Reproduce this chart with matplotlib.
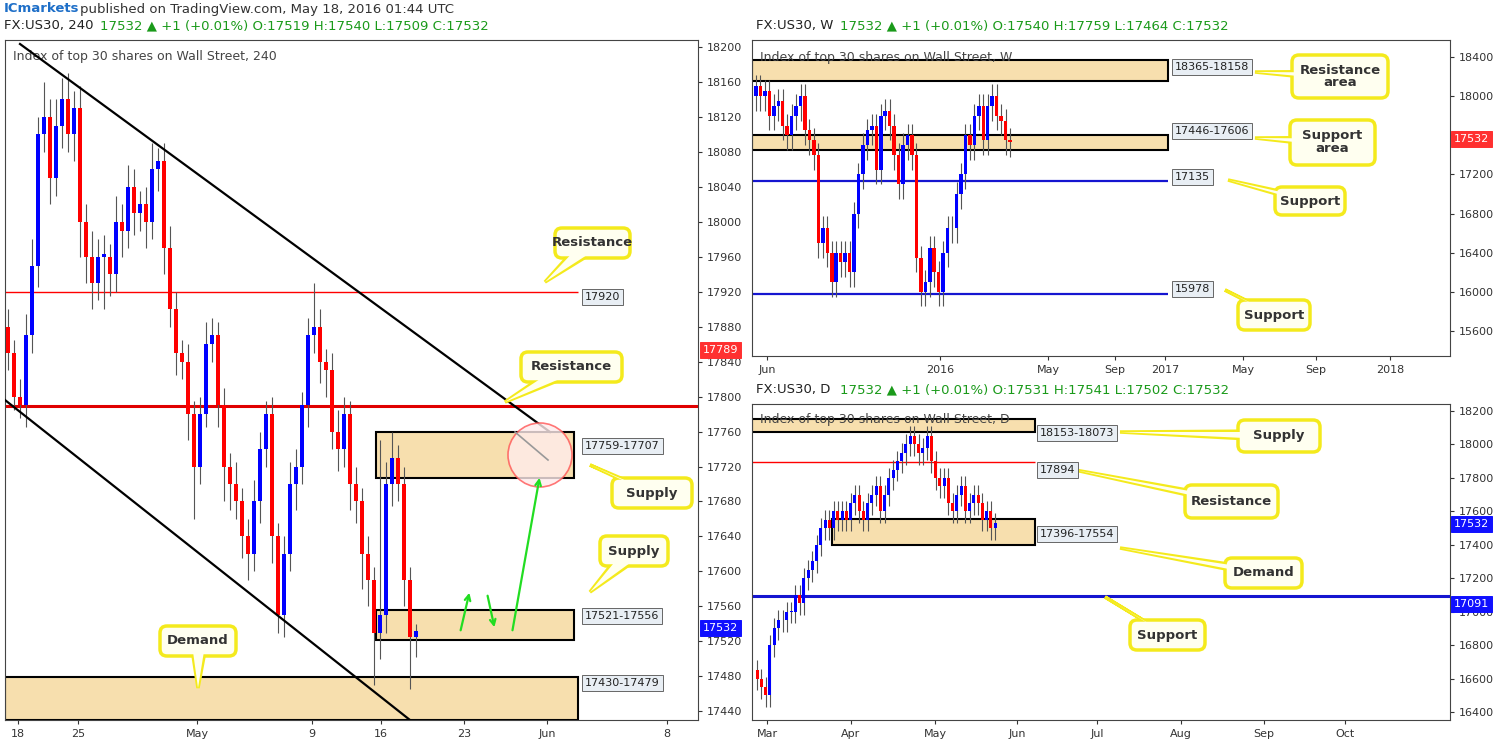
import numpy as np
import matplotlib
matplotlib.use('Agg')
import matplotlib.pyplot as plt
from matplotlib.patches import FancyBboxPatch, Polygon, Rectangle, Circle

W, H = 1498, 747

# ---- 4h panel data (closes, wick extensions) ----
h4_close = [17850, 17800, 17790, 17870, 17950, 18100, 18120, 18050, 18110, 18140,
            18100, 18130, 18000, 17960, 17930, 17960, 17960, 17940, 18000, 17990,
            18040, 18010, 18020, 18000, 18060, 18070, 17970, 17900, 17850, 17840,
            17780, 17720, 17780, 17860, 17870, 17790, 17720, 17700, 17680, 17640,
            17620, 17680, 17740, 17780, 17640, 17550, 17620, 17700, 17720, 17790,
            17870, 17880, 17840, 17830, 17760, 17740, 17780, 17700, 17680, 17620,
            17590, 17530, 17550, 17700, 17730, 17700, 17590, 17525, 17532]
h4_up = [20, 15, 20, 25, 30, 20, 40, 20, 30, 25, 30, 20, 25, 20, 30, 20, 25, 15, 30, 20,
         25, 20, 15, 20, 30, 15, 20, 25, 20, 15, 20, 15, 20, 25, 20, 15, 20, 15, 25, 15,
         20, 25, 20, 15, 20, 15, 20, 25, 20, 15, 20, 50, 20, 15, 20, 25, 20, 15, 20, 15,
         20, 15, 200, 25, 30, 15, 20, 15, 8]
h4_dn = [20, 15, 15, 25, 20, 25, 20, 30, 20, 25, 20, 30, 40, 30, 30, 20, 60, 25, 20, 30,
         20, 25, 20, 30, 20, 25, 30, 20, 25, 20, 30, 60, 20, 15, 20, 25, 40, 30, 20, 25,
         30, 20, 25, 20, 30, 20, 25, 20, 30, 20, 25, 20, 25, 30, 20, 25, 20, 30, 25, 40,
         30, 60, 30, 20, 25, 20, 30, 60, 23]
h4_ticks = ['18', '25', 'May', '9', '16', '23', 'Jun', '8']
h4_tick_px = [18, 78, 197, 312, 381, 464, 547, 667]

# ---- weekly panel data ----
w_close = [18100, 18000, 18050, 17800, 17900, 17950, 17700, 17600, 17800, 17900,
           18000, 17650, 17550, 17400, 16500, 16650, 16400, 16100, 16400, 16300,
           16400, 16200, 16800, 17200, 17500, 17650, 17700, 17250, 17800, 17850,
           17700, 17400, 17100, 17500, 17600, 17400, 16350, 16000, 16100, 16450,
           16200, 16000, 16400, 16650, 16650, 17000, 17200, 17600, 17500, 17800,
           17900, 17550, 17900, 18000, 17800, 17750, 17550, 17532]
w_ticks = ['Jun', '2016', 'May', 'Sep', '2017', 'May', 'Sep', '2018']
w_tick_px = [767, 940, 1048, 1115, 1165, 1243, 1316, 1390]

# ---- daily panel data ----
d_close = [16600, 16550, 16500, 16800, 16900, 16950, 16950, 17000, 17000, 17100,
           17050, 17200, 17250, 17300, 17400, 17500, 17550, 17500, 17600, 17550,
           17600, 17550, 17650, 17700, 17600, 17550, 17650, 17700, 17750, 17600,
           17700, 17800, 17850, 17900, 17950, 18000, 18050, 18000, 17950, 17980,
           18050, 17900, 17800, 17750, 17800, 17650, 17600, 17700, 17750, 17600,
           17650, 17700, 17650, 17550, 17600, 17500, 17532]
d_ticks = ['Mar', 'Apr', 'May', 'Jun', 'Jul', 'Aug', 'Sep', 'Oct']
d_tick_px = [767, 851, 935, 1017, 1097, 1181, 1264, 1345]

BLUE, RED = '#0000ff', '#ff0000'
ZONE = '#f7dfae'
CALL_FILL, CALL_EDGE = '#fffff0', '#f4ea1c'

fig = plt.figure(figsize=(W / 100, H / 100), dpi=100)
fig.patch.set_facecolor('white')


def panel(x, y, w, h):
    ax = fig.add_axes([x / W, 1 - (y + h) / H, w / W, h / H])
    ax.set_xlim(x, x + w)
    ax.yaxis.tick_right()
    ax.tick_params(labelsize=8, colors='#333', length=3)
    for s in ax.spines.values():
        s.set_color('#444')
    return ax


def candles(ax, xs, closes, up, dn, width, first_open):
    opens = [first_open] + closes[:-1]
    for x, o, c, u, d in zip(xs, opens, closes, up, dn):
        col = BLUE if c >= o else RED
        ax.vlines(x, min(o, c) - d, max(o, c) + u, color='#555', lw=0.8, zorder=3)
        ax.bar(x, max(abs(c - o), 3), bottom=min(o, c), width=width, color=col, zorder=4)


def zone(ax, x0, x1, lo, hi):
    ax.add_patch(Rectangle((x0, lo), x1 - x0, hi - lo, facecolor=ZONE, edgecolor='black',
                           lw=1.5, zorder=2))


# ---------- left 4h ----------
a1 = panel(5, 40, 693, 680)
a1.set_ylim(17430, 18208)
a1.set_yticks(range(17440, 18201, 40))
a1.set_xticks(h4_tick_px, h4_ticks)
xs = [8 + 6 * i for i in range(len(h4_close))]
zone(a1, 376, 574, 17707, 17759)
zone(a1, 376, 574, 17521, 17556)
zone(a1, 5, 578, 17430, 17479)
candles(a1, xs, h4_close, h4_up, h4_dn, 4, 17880)
a1.hlines(17920, 5, 578, color=RED, lw=1)
a1.hlines(17789, 5, 698, color='#e00000', lw=2.2)


def p4(y):
    return 18200 - (y - 47) / 0.874


a1.plot([20, 550], [p4(44), p4(432)], color='black', lw=1.6, zorder=5)
a1.plot([5, 410], [p4(400), p4(720)], color='black', lw=1.6, zorder=5)
a1.text(13, p4(57), 'Index of top 30 shares on Wall Street, 240', fontsize=9, color='#444',
        va='center')

# ---------- weekly ----------
a2 = panel(752, 40, 698, 316)
a2.set_ylim(15344, 18574)
a2.set_yticks(range(15600, 18401, 400))
a2.set_xticks(w_tick_px, w_ticks)
xs = np.linspace(756, 1010, len(w_close))
zone(a2, 752, 1168, 18158, 18365)
zone(a2, 752, 1168, 17446, 17606)
candles(a2, xs, w_close, [120] * len(w_close), [150] * len(w_close), 3.5, 18000)
a2.hlines([17135, 15978], 752, 1168, color='#1515d0', lw=1.6)
a2.text(760, 18400, 'Index of top 30 shares on Wall Street, W', fontsize=9, color='#444', va='center')

# ---------- daily ----------
a3 = panel(752, 404, 698, 316)
a3.set_ylim(16352, 18242)
a3.set_yticks(range(16400, 18201, 200))
a3.set_xticks(d_tick_px, d_ticks)
xs = np.linspace(757, 995, len(d_close))
zone(a3, 752, 1035, 18073, 18153)
zone(a3, 832, 1035, 17396, 17554)
candles(a3, xs, d_close, [60] * len(d_close), [70] * len(d_close), 3, 16650)
a3.hlines(17894, 752, 1035, color=RED, lw=1)
a3.hlines(17091, 752, 1450, color='#1515d0', lw=2.2)
a3.text(760, 18150, 'Index of top 30 shares on Wall Street, D', fontsize=9, color='#444', va='center')

# ---------- overlay (pixel coords) ----------
ov = fig.add_axes([0, 0, 1, 1], zorder=10)
ov.set_xlim(0, W)
ov.set_ylim(H, 0)
ov.axis('off')
ov.patch.set_alpha(0)


def tag(x, y, s, fc='#e8eef4', tc='#222', ec='#666'):
    ov.text(x, y, s, fontsize=8, color=tc, va='center', ha='left',
            bbox=dict(boxstyle='square,pad=0.25', fc=fc, ec=ec, lw=0.7))


def callout(x0, y0, x1, y1, tip, text):
    cx, cy = (x0 + x1) / 2, (y0 + y1) / 2
    ov.add_patch(Polygon([(cx - 8, cy - 5), (cx + 8, cy + 5), tip], closed=True,
                         fc=CALL_FILL, ec=CALL_EDGE, lw=2.5))
    ov.add_patch(FancyBboxPatch((x0, y0), x1 - x0, y1 - y0, boxstyle='round,pad=0,rounding_size=7',
                                fc=CALL_FILL, ec=CALL_EDGE, lw=2.5))
    ov.add_patch(Polygon([(cx - 7, cy - 4), (cx + 7, cy + 4), tip], closed=True,
                         fc=CALL_FILL, ec='none', lw=0))
    ov.text(cx, cy, text, ha='center', va='center', fontsize=9.5, fontweight='bold',
            color='#333', linespacing=1.0)


# left annotations
tag(585, 297, '17920')
tag(585, 446, '17759-17707')
tag(585, 616, '17521-17556')
tag(585, 683, '17430-17479')
tag(703, 350, '17789', fc='#ff3030', tc='white', ec='#ff3030')
tag(703, 628, '17532', fc='#1010ff', tc='white', ec='#1010ff')
callout(555, 228, 630, 258, (545, 282), 'Resistance')
callout(521, 352, 622, 382, (505, 402), 'Resistance')
callout(612, 478, 692, 508, (590, 465), 'Supply')
callout(600, 536, 668, 566, (590, 592), 'Supply')
callout(160, 626, 236, 656, (198, 688), 'Demand')
for (x0, y0), (x1, y1) in [((460, 633), (470, 590)), ((487, 593), (495, 630)), ((512, 633), (540, 475))]:
    ov.annotate('', xy=(x1, y1), xytext=(x0, y0),
                arrowprops=dict(arrowstyle='->', color='#22dd22', lw=1.6))
ov.add_patch(Circle((540, 455), 32, fc='#ffecec', ec='#ff5555', lw=1.2, alpha=0.8))
ov.plot([515, 548], [432, 460], color='#999', lw=1.2)

# weekly annotations
tag(1175, 67, '18365-18158')
tag(1175, 131, '17446-17606')
tag(1175, 177, '17135')
tag(1175, 289, '15978')
tag(1454, 139, '17532', fc='#ff3030', tc='white', ec='#ff3030')
callout(1292, 55, 1388, 98, (1255, 72), 'Resistance\narea')
callout(1290, 120, 1375, 165, (1255, 138), 'Support\narea')
callout(1275, 187, 1345, 215, (1228, 180), 'Support')
callout(1238, 300, 1310, 330, (1225, 290), 'Support')

# daily annotations
tag(1040, 433, '18153-18073')
tag(1040, 470, '17894')
tag(1040, 534, '17396-17554')
tag(1454, 524, '17532', fc='#1010ff', tc='white', ec='#1010ff')
tag(1454, 604, '17091', fc='#1010ff', tc='white', ec='#1010ff')
callout(1238, 420, 1320, 452, (1120, 432), 'Supply')
callout(1185, 485, 1278, 518, (1075, 470), 'Resistance')
callout(1225, 558, 1302, 588, (1120, 548), 'Demand')
callout(1130, 620, 1205, 650, (1105, 597), 'Support')

# headers
ov.text(4, 9, 'ICmarkets', color='#1e6fc8', fontsize=9.5, fontweight='bold', va='center')
ov.text(80, 9, 'published on TradingView.com, May 18, 2016 01:44 UTC', color='#333',
        fontsize=9.5, va='center')
ov.text(4, 26, 'FX:US30, 240', fontsize=9.5, va='center', color='#222')
ov.text(100, 26, '17532 \u25b2 +1 (+0.01%) O:17519 H:17540 L:17509 C:17532', fontsize=9.5,
        va='center', color='#1a9a1a')
ov.text(756, 26, 'FX:US30, W', fontsize=9.5, va='center', color='#222')
ov.text(840, 26, '17532 \u25b2 +1 (+0.01%) O:17540 H:17759 L:17464 C:17532', fontsize=9.5,
        va='center', color='#1a9a1a')
ov.text(756, 390, 'FX:US30, D', fontsize=9.5, va='center', color='#222')
ov.text(840, 390, '17532 \u25b2 +1 (+0.01%) O:17531 H:17541 L:17502 C:17532', fontsize=9.5,
        va='center', color='#1a9a1a')

fig.savefig('out.png', dpi=100)
